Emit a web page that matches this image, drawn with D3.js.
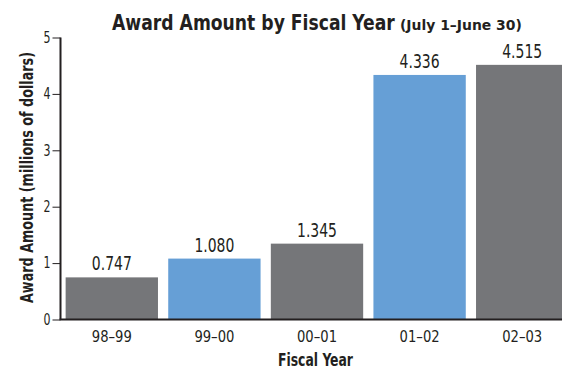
<!DOCTYPE html>
<html>
<head>
<meta charset="utf-8">
<script src="https://cdn.jsdelivr.net/npm/d3@7"></script>
<style>
  html, body { margin: 0; padding: 0; background: #fff; }
  svg { display: block; }
  text { font-family: "DejaVu Sans Condensed", "Liberation Sans Narrow", sans-serif; }
</style>
</head>
<body>
<svg id="chart" width="562" height="369"></svg>
<script>
const categories = ["98\u201399", "99\u201300", "00\u201301", "01\u201302", "02\u201303"];
const values = [0.747, 1.080, 1.345, 4.336, 4.515];
const valueLabels = ["0.747", "1.080", "1.345", "4.336", "4.515"];
const barColors = ["#757679", "#669fd6", "#757679", "#669fd6", "#757679"];
const yTicks = [0, 1, 2, 3, 4, 5];

const FONT = '"DejaVu Sans Condensed", "Liberation Sans Narrow", sans-serif';
const INK = "#231f20";
const svg = d3.select("#chart");
const x0 = 60.5, yBase = 319.5, yTop = 37.5;

const x = d3.scaleBand().domain(categories).range([x0, x0 + 102.6 * 5]).paddingInner(0.1).paddingOuter(0.05);
const y = d3.scaleLinear().domain([0, 5]).range([yBase, yTop]);

// horizontally squeeze a text to a given width using a transform
function fitText(g, tx, ty, width) {
  const t = g.select("text");
  const w = t.node().getComputedTextLength();
  g.attr("transform", `translate(${tx},${ty}) scale(${width / w},1)`);
}

// bars
svg.selectAll("rect.bar").data(values).enter().append("rect")
  .attr("class", "bar")
  .attr("x", (d, i) => x(categories[i]))
  .attr("width", x.bandwidth())
  .attr("y", d => y(d))
  .attr("height", d => yBase - y(d))
  .attr("fill", (d, i) => barColors[i]);

// value labels
svg.selectAll("text.val").data(values).enter().append("text")
  .attr("class", "val")
  .attr("x", (d, i) => x(categories[i]) + x.bandwidth() / 2)
  .attr("y", d => y(d) - 7)
  .attr("text-anchor", "middle")
  .attr("font-size", 19)
  .attr("textLength", 40).attr("lengthAdjust", "spacingAndGlyphs")
  .attr("fill", INK)
  .text((d, i) => valueLabels[i]);

// y axis
const yAxis = d3.axisLeft(y).tickValues(yTicks).tickFormat(d3.format("d")).tickSize(8).tickPadding(2);
const yg = svg.append("g").attr("transform", `translate(${x0},0)`).call(yAxis);
yg.select(".domain").attr("stroke", INK).attr("stroke-width", 2).attr("d", `M0,${yTop}V${yBase}`);
yg.selectAll(".tick line").attr("stroke", INK).attr("stroke-width", 1);
yg.selectAll(".tick text").attr("font-size", 15).attr("fill", INK)
  .attr("textLength", 7).attr("lengthAdjust", "spacingAndGlyphs")
  .style("font-family", FONT);

// x axis
const xAxis = d3.axisBottom(x).tickSize(0).tickPadding(0);
const xg = svg.append("g").attr("transform", `translate(0,${yBase})`).call(xAxis);
xg.select(".domain").attr("stroke", INK).attr("stroke-width", 2).attr("d", `M${x0 - 1},0H562`);
xg.selectAll(".tick text").attr("font-size", 16).attr("fill", INK)
  .attr("y", 22.3).attr("dy", 0)
  .attr("textLength", 40).attr("lengthAdjust", "spacingAndGlyphs")
  .style("font-family", FONT);

// axis titles
svg.append("text")
  .attr("x", 315.5).attr("y", 366)
  .attr("text-anchor", "middle")
  .attr("font-size", 17.5).attr("font-weight", "bold").attr("fill", INK)
  .attr("textLength", 75).attr("lengthAdjust", "spacingAndGlyphs")
  .text("Fiscal Year");

svg.append("text")
  .attr("transform", "translate(33,177.5) rotate(-90)")
  .attr("text-anchor", "middle")
  .attr("font-size", 17).attr("font-weight", "bold").attr("fill", INK)
  .attr("textLength", 251).attr("lengthAdjust", "spacingAndGlyphs")
  .text("Award Amount (millions of dollars)");

// title
const tMain = svg.append("g");
tMain.append("text").attr("x", 0).attr("y", 0)
  .attr("font-size", 20.5).attr("font-weight", "bold").attr("fill", INK)
  .text("Award Amount by Fiscal Year");
fitText(tMain, 112, 29.5, 283);

const tSub = svg.append("g");
tSub.append("text").attr("x", 0).attr("y", 0)
  .attr("font-size", 14).attr("font-weight", "bold").attr("fill", INK)
  .text("(July 1\u2013June 30)");
fitText(tSub, 400, 29.5, 122);
</script>
</body>
</html>
